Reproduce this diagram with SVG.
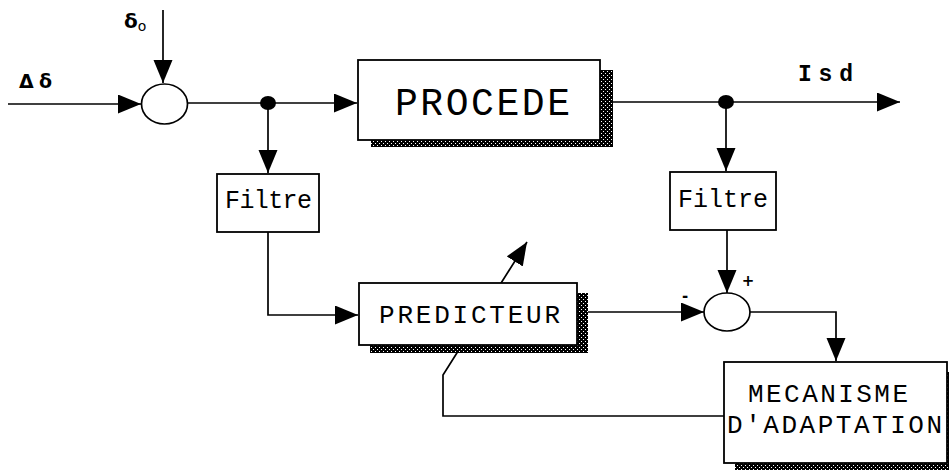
<svg xmlns="http://www.w3.org/2000/svg" width="949" height="473" viewBox="0 0 949 473">
<style>
.ln{fill:none;stroke:#000;stroke-width:1.7}
.box{fill:#fff;stroke:#000;stroke-width:1.8}
.sum{fill:#fff;stroke:#000;stroke-width:1.7}
.sh{fill:url(#stip);stroke:none}
.mono{font-family:"Liberation Mono","Courier New",monospace;fill:#000}
.lbl{font-family:"DejaVu Sans","Liberation Sans",sans-serif;font-weight:bold;fill:#000}
</style>
<defs>
<pattern id="stip" width="4" height="4" patternUnits="userSpaceOnUse">
<rect width="4" height="4" fill="#000"/>
<rect x="1" y="1" width="1" height="1" fill="#fff"/>
<rect x="3" y="3" width="1" height="1" fill="#fff"/>
</pattern>
<marker id="ah" markerUnits="userSpaceOnUse" markerWidth="26" markerHeight="20" refX="23" refY="9.5" orient="auto">
<path d="M0,0 L23,9.5 L0,19 z" fill="#000"/>
</marker>
</defs>
<g id="connectors">
<line class="ln" x1="8" y1="104" x2="141" y2="104" marker-end="url(#ah)"/>
<line class="ln" x1="163" y1="10" x2="163" y2="83" marker-end="url(#ah)"/>
<line class="ln" x1="187" y1="103" x2="357" y2="103" marker-end="url(#ah)"/>
<line class="ln" x1="268" y1="103" x2="268" y2="173" marker-end="url(#ah)"/>
<polyline class="ln" points="268,232 268,315 358,315" marker-end="url(#ah)"/>
<line class="ln" x1="613" y1="102" x2="900" y2="102" marker-end="url(#ah)"/>
<line class="ln" x1="726" y1="102" x2="726" y2="171" marker-end="url(#ah)"/>
<line class="ln" x1="727" y1="230" x2="727" y2="293" marker-end="url(#ah)"/>
<line class="ln" x1="588" y1="312" x2="704" y2="312" marker-end="url(#ah)"/>
<polyline class="ln" points="750,312 836,312 836,361" marker-end="url(#ah)"/>
<polyline class="ln" points="724,416 443,416 443,375 527,242" marker-end="url(#ah)"/>
<ellipse cx="268" cy="103" rx="8" ry="7" fill="#000"/>
<ellipse cx="726" cy="102" rx="8" ry="7" fill="#000"/>
</g>
<g id="sum1">
<ellipse class="sum" cx="164.5" cy="104" rx="23" ry="20"/>
</g>
<g id="procede">
<rect class="sh" x="371" y="70" width="242" height="77"/>
<rect class="box" x="358" y="60" width="242" height="80"/>
<text class="mono" x="395" y="115" font-size="38" textLength="175" lengthAdjust="spacing">PROCEDE</text>
</g>
<g id="filtre1">
<rect class="box" x="217" y="174" width="102" height="58"/>
<text class="mono" x="225" y="208" font-size="25" textLength="87" lengthAdjust="spacing">Filtre</text>
</g>
<g id="filtre2">
<rect class="box" x="670" y="172" width="106" height="58"/>
<text class="mono" x="678" y="207" font-size="25" textLength="90" lengthAdjust="spacing">Filtre</text>
</g>
<g id="predicteur">
<rect class="sh" x="370" y="293" width="218" height="60"/>
<rect class="box" x="359" y="283" width="218" height="62"/>
<text class="mono" x="379" y="323" font-size="26" textLength="181" lengthAdjust="spacing">PREDICTEUR</text>
</g>
<g id="sum2">
<ellipse class="sum" cx="727" cy="312" rx="23" ry="19"/>
<text class="lbl" x="748" y="286" font-size="15" text-anchor="middle">+</text>
<text class="lbl" x="685" y="301" font-size="15" text-anchor="middle">-</text>
</g>
<g id="mecanisme">
<rect class="sh" x="735" y="372" width="225" height="98"/>
<rect class="box" x="724" y="362" width="223" height="101"/>
<text class="mono" x="748" y="402" font-size="26" textLength="160" lengthAdjust="spacing">MECANISME</text>
<text class="mono" x="727" y="433" font-size="26" textLength="215" lengthAdjust="spacing">D'ADAPTATION</text>
</g>
<g id="labels">
<text class="lbl" x="19" y="88" font-size="19">Δ<tspan x="39">δ</tspan></text>
<text class="lbl" x="124" y="28" font-size="20">δ<tspan font-size="14" font-weight="normal" dy="3">o</tspan></text>
<text class="mono" x="798" y="81" font-size="23" font-weight="bold" textLength="55" lengthAdjust="spacing">Isd</text>
</g>
</svg>
